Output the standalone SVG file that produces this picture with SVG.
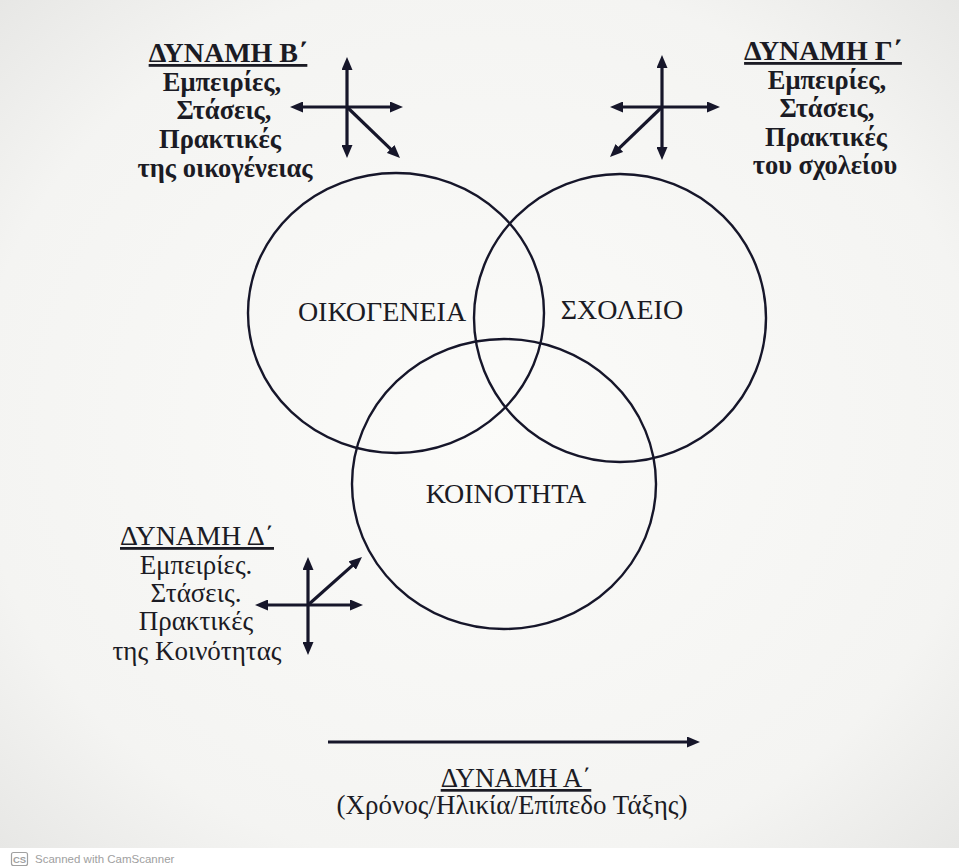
<svg xmlns="http://www.w3.org/2000/svg" width="959" height="868" viewBox="0 0 959 868">
<defs>
<radialGradient id="bg" cx="0.5" cy="0.5" r="0.75">
<stop offset="0" stop-color="#fbfbf9"/>
<stop offset="0.7" stop-color="#f4f4f2"/>
<stop offset="1" stop-color="#e4e4e2"/>
</radialGradient>
<marker id="ah" viewBox="0 0 13 11" markerUnits="userSpaceOnUse" markerWidth="13" markerHeight="11" refX="3" refY="5.5" orient="auto">
<path d="M0,0 L13,5.5 L0,11 z" fill="#16162a"/>
</marker>
</defs>
<style>
.t{font-family:"Liberation Serif","Times New Roman",serif;fill:#1b1b24;text-anchor:middle;font-size:27px}
.b{font-weight:bold;font-size:26.5px}
.u{text-decoration:underline}
.h{font-size:28px}
.lbl{font-size:28px}
.c{fill:none;stroke:#16162a;stroke-width:2.4}
.a{stroke:#16162a;stroke-width:3.2;fill:none;marker-end:url(#ah)}
.foot{font-family:"Liberation Sans",Arial,sans-serif;fill:#a0a0a0}
</style>
<rect x="0" y="0" width="959" height="848" fill="url(#bg)"/>
<rect x="0" y="848" width="959" height="20" fill="#ffffff"/>

<g id="oikogeneia">
<ellipse class="c" cx="396" cy="313" rx="148" ry="140"/>
<text class="t lbl" x="382" y="321">ΟΙΚΟΓΕΝΕΙΑ</text>
</g>
<g id="scholeio">
<ellipse class="c" cx="620" cy="318" rx="146" ry="144"/>
<text class="t lbl" x="622" y="319">ΣΧΟΛΕΙΟ</text>
</g>
<g id="koinotita">
<ellipse class="c" cx="504" cy="484" rx="152" ry="145"/>
<text class="t lbl" x="506" y="503">ΚΟΙΝΟΤΗΤΑ</text>
</g>

<g id="dynami-b">
<text class="t b u h" x="228" y="62">ΔΥΝΑΜΗ Β΄</text>
<text class="t b" x="222" y="91">Εμπειρίες,</text>
<text class="t b" x="224" y="119">Στάσεις,</text>
<text class="t b" x="220" y="148">Πρακτικές</text>
<text class="t b" x="225" y="177">της οικογένειας</text>
</g>
<g id="dynami-g">
<text class="t b u h" x="823" y="60">ΔΥΝΑΜΗ Γ΄</text>
<text class="t b" x="827" y="89">Εμπειρίες,</text>
<text class="t b" x="827" y="117">Στάσεις,</text>
<text class="t b" x="826" y="146">Πρακτικές</text>
<text class="t b" x="825" y="174">του σχολείου</text>
</g>
<g id="dynami-d">
<text class="t u h" x="197" y="545">ΔΥΝΑΜΗ Δ΄</text>
<text class="t" x="196" y="574">Εμπειρίες.</text>
<text class="t" x="196" y="602">Στάσεις.</text>
<text class="t" x="196" y="630">Πρακτικές</text>
<text class="t" x="197" y="660">της Κοινότητας</text>
</g>
<g id="dynami-a">
<text class="t u" x="516" y="787" font-size="29">ΔΥΝΑΜΗ Α΄</text>
<text class="t" x="512" y="814" font-size="30">(Χρόνος/Ηλικία/Επίπεδο Τάξης)</text>
</g>

<g id="connectors">
<line class="a" x1="347" y1="107" x2="347" y2="67"/>
<line class="a" x1="347" y1="107" x2="347" y2="148"/>
<line class="a" x1="347" y1="107" x2="300" y2="107"/>
<line class="a" x1="347" y1="107" x2="393" y2="107"/>
<line class="a" x1="347" y1="107" x2="392.8" y2="151.1"/>

<line class="a" x1="662" y1="107" x2="662" y2="65"/>
<line class="a" x1="662" y1="107" x2="662" y2="150"/>
<line class="a" x1="662" y1="107" x2="620" y2="107"/>
<line class="a" x1="662" y1="107" x2="710" y2="107"/>
<line class="a" x1="662" y1="107" x2="617.2" y2="150.1"/>

<line class="a" x1="308" y1="605" x2="308" y2="567"/>
<line class="a" x1="308" y1="605" x2="308" y2="645"/>
<line class="a" x1="308" y1="605" x2="265" y2="605"/>
<line class="a" x1="308" y1="605" x2="353" y2="605"/>
<line class="a" x1="308" y1="605" x2="354.5" y2="563.6"/>

<line class="a" x1="328" y1="742" x2="690" y2="742"/>
</g>

<g id="footer">
<rect x="11.5" y="852.5" width="16" height="13" rx="2" fill="none" stroke="#a0a0a0" stroke-width="1.2"/>
<text class="foot" x="19.5" y="863" font-size="9.5" font-weight="bold" text-anchor="middle">CS</text>
<text class="foot" x="35" y="863" font-size="11.5">Scanned with CamScanner</text>
</g>
</svg>
